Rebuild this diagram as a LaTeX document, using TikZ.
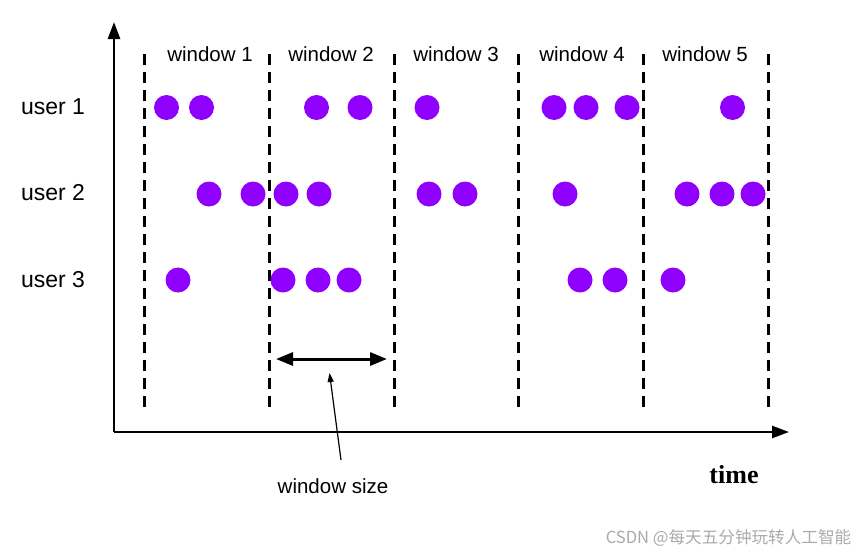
\documentclass[tikz,border=0pt]{standalone}
\usepackage{fontspec}
\setmainfont{Liberation Sans}
\newfontfamily\timesfont{Liberation Serif}
\newfontfamily\cjkfont{Noto Sans CJK SC}
\usetikzlibrary{arrows.meta}
\definecolor{dotpurple}{HTML}{9000FF}
\definecolor{wmgray}{HTML}{AAAAAA}
\tikzset{
  ev/.style={circle,fill=dotpurple,draw=none,minimum size=25pt,inner sep=0pt},
  winline/.style={line width=3pt,dash pattern=on 11pt off 7pt},
  axis/.style={line width=2.6pt,-{Triangle[length=17pt,width=12pt]}},
  userlbl/.style={font=\fontsize{23}{26}\selectfont,inner sep=0pt},
  winlbl/.style={font=\fontsize{20.5}{24}\selectfont,inner sep=0pt},
}
\begin{document}
\begin{tikzpicture}[x=1pt,y=-1pt]
\useasboundingbox (0,0) rectangle (856,552);
% axes
\coordinate (O) at (114,432);
\coordinate (ytip) at (114,22);
\coordinate (xtip) at (789,432);
\draw[axis] (O) -- (ytip);
\draw[axis] (O) -- (xtip);
% window boundaries
\foreach \i/\x in {0/144.5,1/269.3,2/394.3,3/518.8,4/643.3,5/768.3}{
  \coordinate (t\i) at (\x,54);
  \coordinate (b\i) at (\x,411);
  \draw[winline] (t\i) -- (b\i);
}
% window labels
\node[winlbl] (w1) at (210,54) {window 1};
\node[winlbl] (w2) at (331,54) {window 2};
\node[winlbl] (w3) at (456,54) {window 3};
\node[winlbl] (w4) at (582,54) {window 4};
\node[winlbl] (w5) at (705,54) {window 5};
% user labels
\node[userlbl] (u1) at (53,107) {user 1};
\node[userlbl] (u2) at (53,193) {user 2};
\node[userlbl] (u3) at (53,280) {user 3};
% events
\foreach \x [count=\k] in {166.5,201.5,316.5,360,427,554,586,627,732.5}
  \node[ev] (ea\k) at (\x,107.5) {};
\foreach \x [count=\k] in {209,253,286,319,429,465,565,687,722,753}
  \node[ev] (eb\k) at (\x,194) {};
\foreach \x [count=\k] in {178,283,318,349,580,615,673}
  \node[ev] (ec\k) at (\x,280) {};
% window size arrow
\coordinate (wsl) at (276,359);
\coordinate (wsr) at (387,359);
\draw[line width=3pt,{Triangle[length=17pt,width=13pt]}-{Triangle[length=17pt,width=13pt]}] (wsl) -- (wsr);
\node[winlbl] (ws) at (333,486) {window size};
\coordinate (pt) at (329.5,373);
\coordinate (pb) at (341,460);
\draw[line width=1.2pt,-{Triangle[length=9pt,width=6pt]}] (pb) -- (pt);
% time
\node[inner sep=0pt,font=\timesfont\bfseries\fontsize{26}{28}\selectfont] (time) at (734,475) {time};
% watermark
\node[inner sep=0pt,text=wmgray,font=\cjkfont\fontsize{16.6}{18}\selectfont] (wm) at (728.5,538) {CSDN @每天五分钟玩转人工智能};
\end{tikzpicture}
\end{document}
